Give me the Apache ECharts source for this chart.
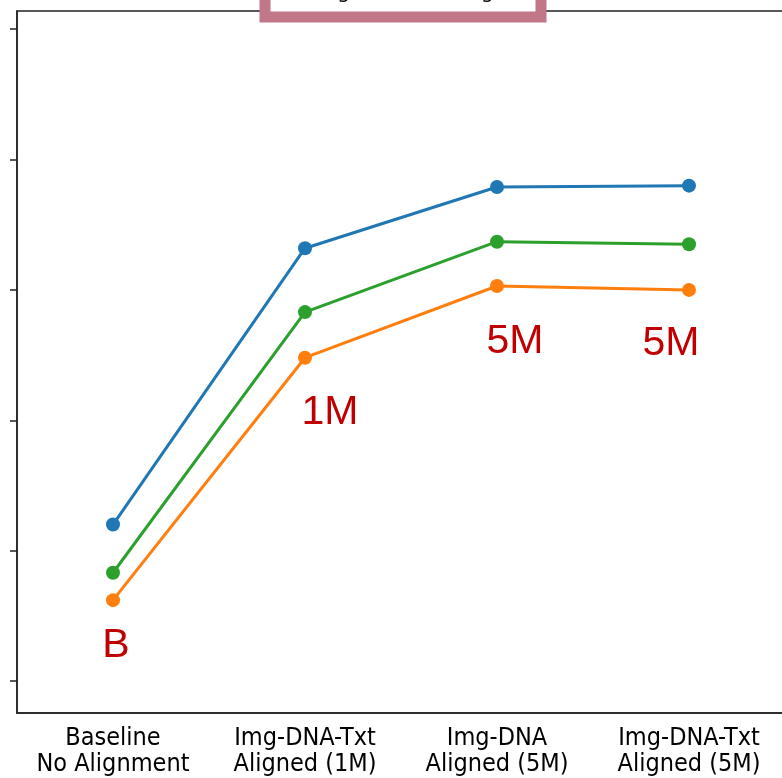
<!DOCTYPE html>
<html>
<head>
<meta charset="utf-8">
<script src="https://cdn.jsdelivr.net/npm/echarts@6/dist/echarts.min.js"></script>
<style>
  html, body { margin: 0; padding: 0; background: #fff; overflow: hidden; }
  #chart { width: 800px; height: 778px; }
</style>
</head>
<body>
<div id="chart"></div>
<script>
// 数据
const categories = ['Baseline\nNo Alignment', 'Img-DNA-Txt\nAligned (1M)', 'Img-DNA\nAligned (5M)', 'Img-DNA-Txt\nAligned (5M)'];
const seriesBlue = [26.0, 36.6, 38.95, 39.0];
const seriesGreen = [24.15, 34.15, 36.85, 36.75];
const seriesOrange = [23.1, 32.4, 35.15, 35.0];
const annotations = ['B', '1M', '5M', '5M'];
const yTicks = [20, 25, 30, 35, 40, 45];
const titleText = 'Alignment Scaling';

const AXIS_MIN = 18.77;
const AXIS_MAX = 45.70;

// 注释标签的偏移（相对橙色点）
const annotationOffsets = [[3, 46], [25, 55], [18, 56], [-18, 54]];

function lineSeries(name, data, color) {
  return {
    name,
    type: 'line',
    data,
    symbol: 'circle',
    symbolSize: 14,
    lineStyle: { color, width: 3 },
    itemStyle: { color },
    z: 3
  };
}

const chart = echarts.init(document.getElementById('chart'), null, { renderer: 'canvas' });

const orange = lineSeries('orange', seriesOrange.map((v, i) => ({
  value: v,
  label: {
    show: true,
    formatter: annotations[i],
    position: 'inside',
    offset: annotationOffsets[i]
  }
})), '#ff7f0e');
orange.label = {
  color: '#c00000',
  fontSize: 41,
  fontFamily: 'Liberation Sans',
  align: 'center',
  verticalAlign: 'middle'
};

chart.setOption({
  animation: false,
  backgroundColor: '#fff',
  grid: {
    left: 17, top: 11, width: 768, height: 702,
    show: true, borderColor: '#222', borderWidth: 1.5,
    backgroundColor: 'transparent'
  },
  xAxis: {
    type: 'category',
    data: categories,
    boundaryGap: true,
    axisLine: { lineStyle: { color: '#222', width: 1.5 } },
    axisTick: { alignWithLabel: true, length: 7, lineStyle: { color: '#222', width: 1.5 } },
    axisLabel: {
      color: '#000',
      fontSize: 25,
      fontFamily: 'DejaVu Sans Condensed, DejaVu Sans',
      lineHeight: 26,
      margin: 12,
      interval: 0
    }
  },
  yAxis: {
    type: 'value',
    min: AXIS_MIN,
    max: AXIS_MAX,
    splitLine: { show: false },
    axisLine: { show: true, lineStyle: { color: '#222', width: 1.5 } },
    axisTick: { show: true, length: 7, customValues: yTicks, lineStyle: { color: '#222', width: 1.5 } },
    axisLabel: { show: false }
  },
  series: [
    lineSeries('blue', seriesBlue, '#1f77b4'),
    lineSeries('green', seriesGreen, '#2ca02c'),
    orange
  ],
  graphic: [
    {
      type: 'rect',
      z: 0,
      shape: { x: 265, y: -40, width: 276, height: 57 },
      style: { fill: '#fff', stroke: '#c27789', lineWidth: 11 }
    },
    {
      type: 'text',
      z: 1,
      style: {
        text: titleText,
        x: 403,
        y: 3,
        fill: '#000',
        font: '20px DejaVu Sans',
        align: 'center',
        verticalAlign: 'bottom'
      }
    }
  ]
});
</script>
</body>
</html>
